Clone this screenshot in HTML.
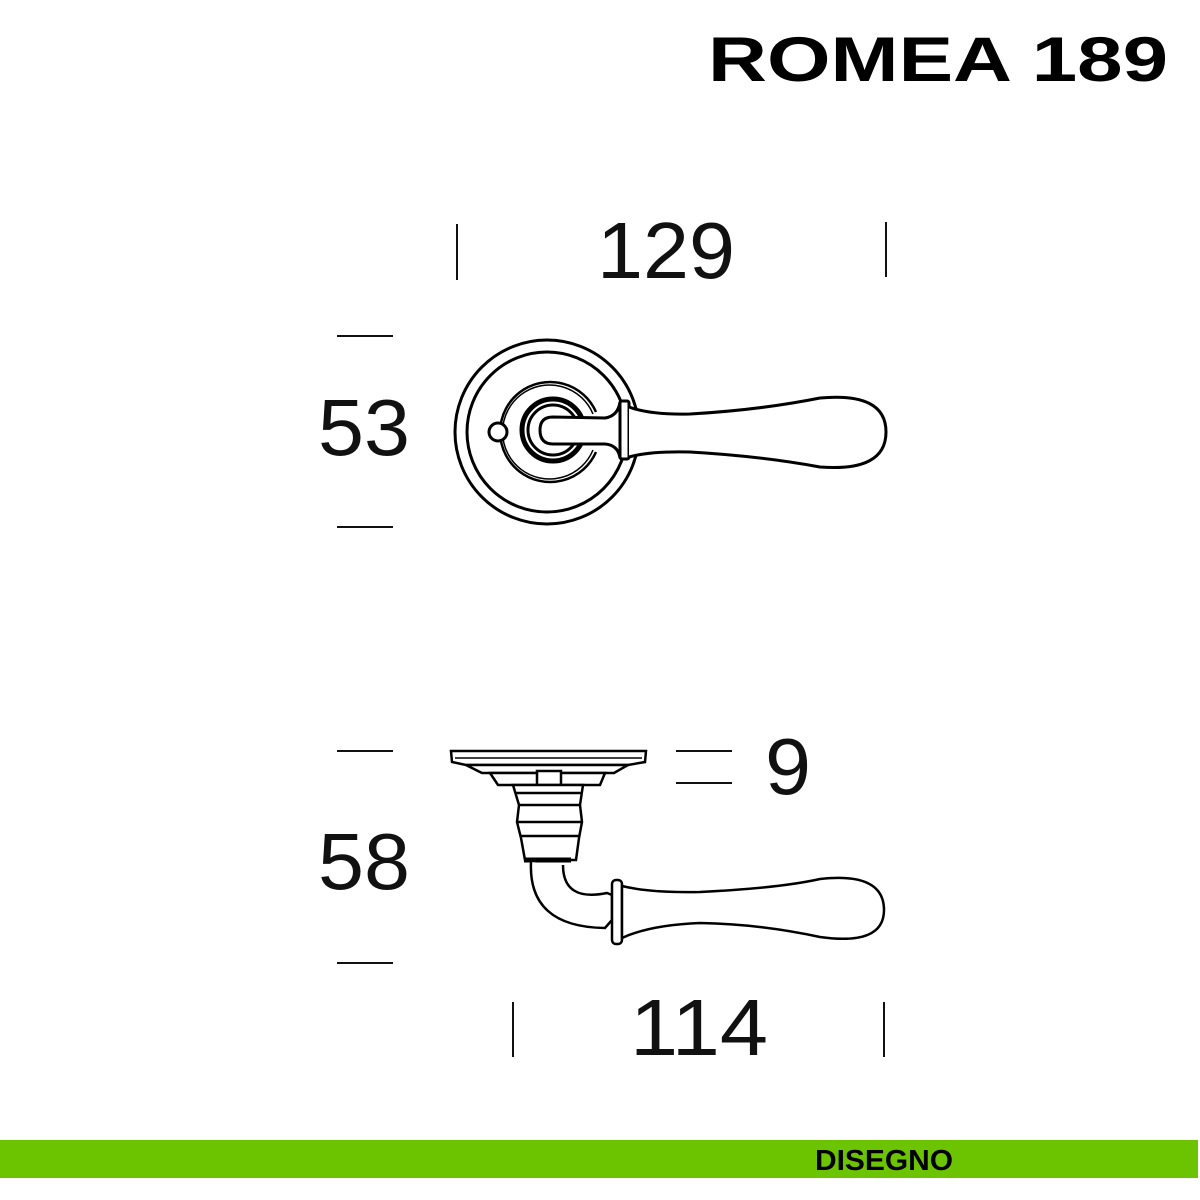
<!DOCTYPE html>
<html><head><meta charset="utf-8"><style>
html,body{margin:0;padding:0;background:#fff;}
svg{display:block}
</style></head><body>
<svg width="1200" height="1200" viewBox="0 0 1200 1200" xmlns="http://www.w3.org/2000/svg">
<rect width="1200" height="1200" fill="#fff"/>
<text x="708" y="81" font-family="Liberation Sans, sans-serif" font-weight="bold" font-size="63" textLength="460" lengthAdjust="spacingAndGlyphs" fill="#000">ROMEA 189</text>

<g font-family="Liberation Sans, sans-serif" font-size="80" fill="#111">
<text x="597" y="278" textLength="138" lengthAdjust="spacingAndGlyphs">129</text>
<text x="318" y="455" textLength="92" lengthAdjust="spacingAndGlyphs">53</text>
<text x="318" y="889" textLength="92" lengthAdjust="spacingAndGlyphs">58</text>
<text x="765" y="794" textLength="46" lengthAdjust="spacingAndGlyphs">9</text>
<text x="630" y="1055" textLength="138" lengthAdjust="spacingAndGlyphs">114</text>
</g>

<g stroke="#111" stroke-width="2" fill="none">
<line x1="457" y1="224" x2="457" y2="280"/>
<line x1="886" y1="222" x2="886" y2="277"/>
<line x1="337" y1="336" x2="393" y2="336"/>
<line x1="337" y1="527" x2="393" y2="527"/>
<line x1="337" y1="751" x2="393" y2="751"/>
<line x1="337" y1="963" x2="393" y2="963"/>
<line x1="676" y1="751" x2="732" y2="751"/>
<line x1="676" y1="783" x2="732" y2="783"/>
<line x1="513" y1="1002" x2="513" y2="1057"/>
<line x1="884" y1="1002" x2="884" y2="1057"/>
</g>

<!-- top view -->
<g stroke="#000" fill="none">
<circle cx="547" cy="432" r="92" stroke-width="3"/>
<circle cx="547" cy="432" r="80" stroke-width="3"/>
<path d="M596 412 A50 50 0 1 0 596 452" stroke-width="2.5"/>
<path d="M593 414 A47 47 0 1 0 593 450" stroke-width="1.5"/>
<circle cx="553" cy="430" r="31" stroke-width="5"/>
<circle cx="553" cy="430" r="25" stroke-width="3"/>
<circle cx="498" cy="432" r="9" stroke-width="3" fill="#fff"/>
<path d="M553 417 L605 418 Q618 416 620 402 L620 458 Q618 445 605 444 L553 444 Q540 444 540 430 Q540 417 553 417 Z" stroke-width="3" fill="#fff"/>
<rect x="620" y="401" width="9" height="58" rx="2" stroke-width="3" fill="#fff"/>
<path d="M629 407 Q650 415 690 414 Q760 410 820 398 Q886 392 886 432 Q886 472 820 467 Q760 456 690 452 Q650 451 629 457" stroke-width="3" fill="#fff"/>
</g>

<!-- side view -->
<g stroke="#000" fill="#fff" stroke-width="2.5">
<path d="M451 751 L646 751 L645 762 L628 765 L466 765 L452 762 Z"/>
<line x1="455" y1="758" x2="642" y2="758" stroke-width="1.5"/>
<path d="M466 765 L628 765 L614 773 L482 773 Z"/>
<path d="M490 773 L605 773 L600 785 L498 785 Z"/>
<rect x="537" y="771" width="24" height="14"/>
<path d="M513 785 L583 785 L580 805 L582 822 L579 838 L576 860 L525 860 L521 838 L517 822 L519 805 Z"/>
<line x1="515" y1="793" x2="581" y2="793"/>
<line x1="519" y1="805" x2="580" y2="805"/>
<line x1="517" y1="822" x2="582" y2="822"/>
<line x1="520" y1="836" x2="579" y2="836"/>
<line x1="524" y1="860" x2="571" y2="860" stroke-width="5"/>
<path d="M531 862 Q528 927 605 928 L612 920 L612 895 L607 893 Q563 902 563 865" />
<rect x="612" y="880" width="10" height="64" rx="4"/>
<path d="M622 886 Q650 893 700 892 Q780 888 820 879 Q884 872 884 910 Q884 946 820 937 Q760 924 700 923 Q650 925 622 938 Z"/>
</g>

<rect x="0" y="1140" width="1198" height="38" fill="#6cc400"/>
<text x="815" y="1170" font-family="Liberation Sans, sans-serif" font-weight="bold" font-size="29" textLength="138" lengthAdjust="spacingAndGlyphs" fill="#000">DISEGNO</text>
</svg>
</body></html>
